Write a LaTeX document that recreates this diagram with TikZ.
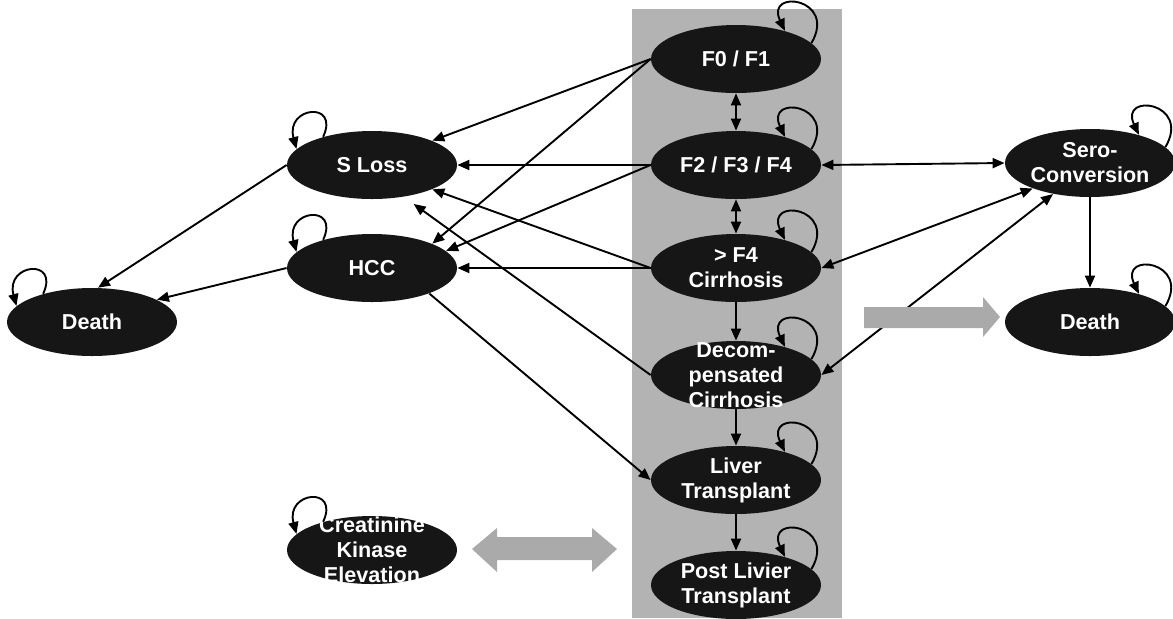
\documentclass[tikz,border=0pt]{standalone}
\usepackage{fontspec}
\setmainfont{Liberation Sans}
\usetikzlibrary{arrows.meta,shapes.geometric}
\definecolor{bandgray}{HTML}{B3B3B3}
\definecolor{arrowgray}{HTML}{AAAAAA}
\definecolor{statefill}{HTML}{161616}

\begin{document}
\begin{tikzpicture}[x=0.5pt,y=0.5pt,
  >={Triangle[length=6pt,width=5pt]},
  state/.style={ellipse,fill=statefill,minimum width=85pt,minimum height=34pt,inner sep=0pt},
  statetext/.style={text=white,font=\bfseries\fontsize{10.8}{12.5}\selectfont,align=center,inner sep=0pt},
  link/.style={line width=0.95pt}]
\useasboundingbox (0,0) rectangle (1173,-618);

% Grey band behind the liver states
\fill[bandgray] (632,-9) rectangle (842,-618);

% Liver states
\node[state,label={[statetext]center:F0 / F1}] (f01) at (736,-59) {};
\node[state,label={[statetext]center:F2 / F3 / F4}] (f234) at (736,-165) {};
\node[state,label={[statetext]center:> F4\\Cirrhosis}] (cirr) at (736,-268) {};
\node[state,label={[statetext]center:Decom-\\pensated\\Cirrhosis}] (dec) at (736,-375) {};
\node[state,label={[statetext]center:Liver\\Transplant}] (lt) at (736,-480) {};
\node[state,label={[statetext]center:Post Livier\\Transplant}] (plt) at (736,-585) {};

% Other states
\node[state,label={[statetext]center:S Loss}] (sloss) at (372,-165) {};
\node[state,label={[statetext]center:HCC}] (hcc) at (372,-268) {};
\node[state,label={[statetext]center:Death}] (deathL) at (92,-322) {};
\node[state,label={[statetext]center:Sero-\\Conversion}] (sero) at (1090,-163) {};
\node[state,label={[statetext]center:Death}] (deathR) at (1090,-322) {};
\node[state,label={[statetext]center:Creatinine\\Kinase\\Elevation}] (cke) at (372,-550) {};

% Self loops
\foreach \n in {f01,f234,cirr,dec,lt,plt,sero,deathR}
  \draw[link,->] (\n.12) .. controls +(60:52) and +(115:47) .. (\n.30);
\foreach \n in {sloss,hcc,deathL,cke}
  \draw[link,->] (\n.150) .. controls +(65:40) and +(105:44) .. (\n.168);

% Down the band
\draw[link,<->] (f01.south) -- (f234.north);
\draw[link,<->] (f234.south) -- (cirr.north);
\draw[link,->] (cirr.south) -- (dec.north);
\draw[link,->] (dec.south) -- (lt.north);
\draw[link,->] (lt.south) -- (plt.north);

% To S Loss and HCC
\draw[link,->] (f01.west) -- (sloss.22);
\draw[link,->] (f01.west) -- (hcc.22);
\draw[link,->] (f234.west) -- (sloss.east);
\draw[link,->] (f234.west) -- (hcc.13);
\draw[link,->] (cirr.west) -- (sloss.-22);
\draw[link,->] (cirr.west) -- (hcc.east);
\draw[link,->,shorten >=6pt] (dec.west) -- (sloss.-45);
\draw[link,->] (hcc.-24) -- (lt.west);

% To death
\draw[link,->] (sloss.west) -- (deathL.80);
\draw[link,->] (hcc.west) -- (deathL.19);

% Sero-conversion
\draw[link,<->] (f234.east) -- (sero.west);
\draw[link,<->] (cirr.east) -- (sero.204);
\draw[link,<->] (dec.east) -- (sero.220);
\draw[link,->] (sero.south) -- (deathR.north);

% Grey block arrows
\fill[arrowgray] (864,-307) -- (983,-307) -- (983,-297) -- (1000,-317)
  -- (983,-337) -- (983,-328) -- (864,-328) -- cycle;
\fill[arrowgray] (472,-549) -- (497,-528) -- (497,-537) -- (592,-537) -- (592,-528)
  -- (617,-549) -- (592,-572) -- (592,-560) -- (497,-560) -- (497,-572) -- cycle;
\end{tikzpicture}
\end{document}
